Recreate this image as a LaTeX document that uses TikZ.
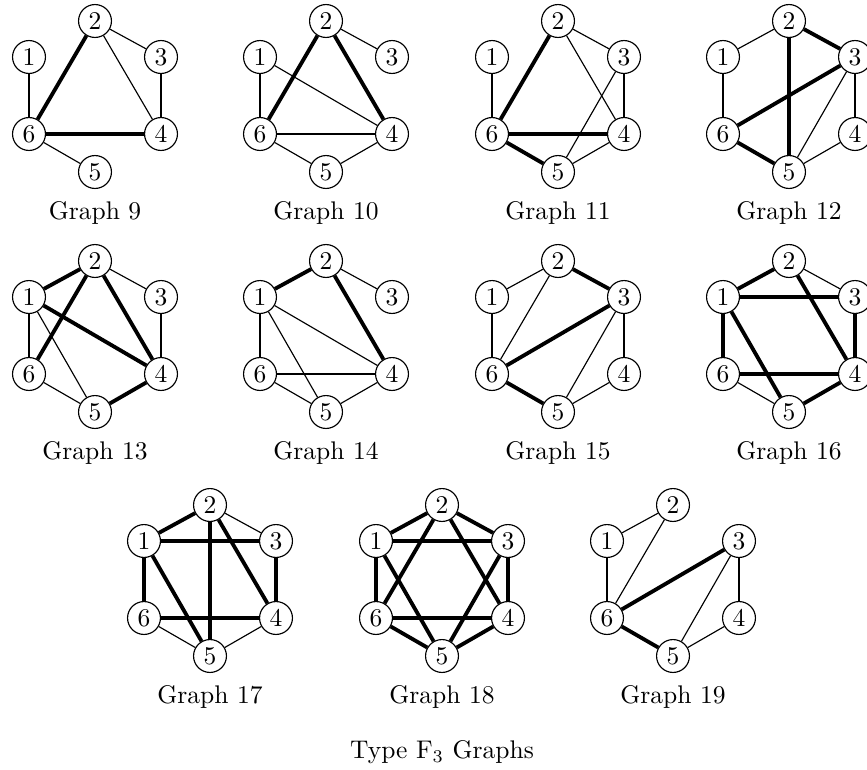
\documentclass[tikz,border=0pt]{standalone}
\begin{document}
\begin{tikzpicture}[x=0.392pt,y=-0.392pt,
  vtx/.style={circle,draw,fill=white,minimum size=12.9pt,inner sep=0pt,line width=0.45pt},
  thinedge/.style={line width=0.45pt},
  thickedge/.style={line width=1.5pt},
  caption/.style={inner sep=0pt,anchor=center}]
\useasboundingbox (0,0) rectangle (867,769);
\newcommand\hexnodes[4]{%
  \node[vtx] (#3-2) at (#1,#2) {2};
  \node[vtx] (#3-1) at (#1-66,#2+36) {1};
  \node[vtx] (#3-3) at (#1+66,#2+36) {3};
  \node[vtx] (#3-6) at (#1-66,#2+113) {6};
  \node[vtx] (#3-4) at (#1+66,#2+113) {4};
  \node[vtx] (#3-5) at (#1,#2+151) {5};
  \node[caption] (#3-cap) at (#1,#2+192) {Graph #4};
}
% row 1
\hexnodes{95}{21}{ga}{9}
\foreach \a/\b in {1/6,2/3,2/4,3/4,6/5} \draw[thinedge] (ga-\a) -- (ga-\b);
\foreach \a/\b in {2/6,6/4} \draw[thickedge] (ga-\a) -- (ga-\b);
\hexnodes{326}{21}{gb}{10}
\foreach \a/\b in {1/6,1/4,2/3,6/4,6/5,5/4} \draw[thinedge] (gb-\a) -- (gb-\b);
\foreach \a/\b in {2/6,2/4} \draw[thickedge] (gb-\a) -- (gb-\b);
\hexnodes{558}{21}{gc}{11}
\foreach \a/\b in {1/6,2/3,2/4,3/4,3/5,5/4} \draw[thinedge] (gc-\a) -- (gc-\b);
\foreach \a/\b in {2/6,6/4,6/5} \draw[thickedge] (gc-\a) -- (gc-\b);
\hexnodes{789}{21}{gd}{12}
\foreach \a/\b in {1/2,1/6,3/4,3/5,5/4} \draw[thinedge] (gd-\a) -- (gd-\b);
\foreach \a/\b in {2/3,2/5,3/6,6/5} \draw[thickedge] (gd-\a) -- (gd-\b);
% row 2
\hexnodes{95}{261}{ge}{13}
\foreach \a/\b in {2/3,1/6,1/5,3/4,6/5} \draw[thinedge] (ge-\a) -- (ge-\b);
\foreach \a/\b in {1/2,2/6,2/4,1/4,5/4} \draw[thickedge] (ge-\a) -- (ge-\b);
\hexnodes{326}{261}{gf}{14}
\foreach \a/\b in {2/3,1/6,1/4,1/5,6/4,6/5,5/4} \draw[thinedge] (gf-\a) -- (gf-\b);
\foreach \a/\b in {1/2,2/4} \draw[thickedge] (gf-\a) -- (gf-\b);
\hexnodes{558}{261}{gg}{15}
\foreach \a/\b in {1/2,1/6,2/6,3/4,3/5,5/4} \draw[thinedge] (gg-\a) -- (gg-\b);
\foreach \a/\b in {2/3,3/6,6/5} \draw[thickedge] (gg-\a) -- (gg-\b);
\hexnodes{789}{261}{gh}{16}
\foreach \a/\b in {2/3,6/5} \draw[thinedge] (gh-\a) -- (gh-\b);
\foreach \a/\b in {1/2,1/3,2/4,1/6,1/5,3/4,6/4,5/4} \draw[thickedge] (gh-\a) -- (gh-\b);
% row 3
\hexnodes{210}{505}{gi}{17}
\foreach \a/\b in {2/3,6/5,5/4} \draw[thinedge] (gi-\a) -- (gi-\b);
\foreach \a/\b in {1/2,1/3,2/5,2/4,1/6,1/5,3/4,6/4} \draw[thickedge] (gi-\a) -- (gi-\b);
\hexnodes{442}{505}{gj}{18}
\foreach \a/\b in {1/2,2/3,3/4,4/5,5/6,6/1,1/3,3/5,5/1,2/4,4/6,6/2} \draw[thickedge] (gj-\a) -- (gj-\b);
\hexnodes{673}{505}{gk}{19}
\foreach \a/\b in {1/2,1/6,2/6,3/4,3/5,5/4} \draw[thinedge] (gk-\a) -- (gk-\b);
\foreach \a/\b in {3/6,6/5} \draw[thickedge] (gk-\a) -- (gk-\b);
\node[caption] (title) at (442,752) {Type F$_3$ Graphs};
\end{tikzpicture}
\end{document}
